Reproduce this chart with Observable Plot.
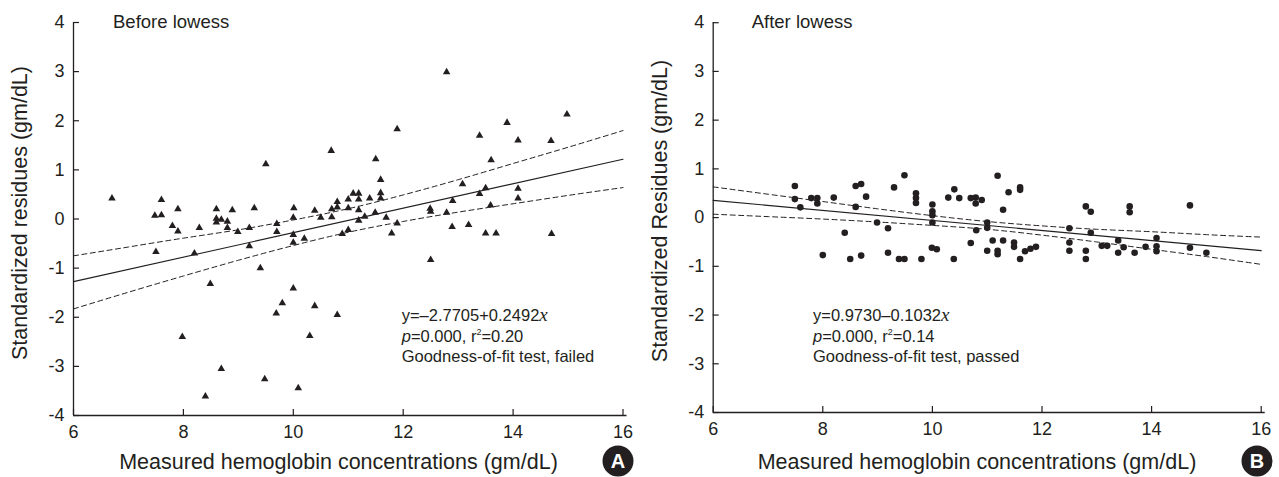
<!DOCTYPE html>
<html><head><meta charset="utf-8">
<script src="https://cdn.jsdelivr.net/npm/d3@7"></script>
<script src="https://cdn.jsdelivr.net/npm/@observablehq/plot@0.6"></script>
<style>
html,body{margin:0;padding:0;background:#fff;}
#wrap{position:relative;width:1279px;height:477px;overflow:hidden;}
#left,#right{position:absolute;top:0;}
#left{left:0;} #right{left:640px;}
#overlay{position:absolute;left:0;top:0;pointer-events:none;}
</style></head><body>
<div id="wrap"><div id="left"></div><div id="right"></div><svg id="overlay" width="1279" height="477"></svg></div>
<script>
const xTicks = [6, 8, 10, 12, 14, 16];
const yTicks = [-4, -3, -2, -1, 0, 1, 2, 3, 4];
const panelTitles = ["Before lowess", "After lowess"];
const xLabel = "Measured hemoglobin concentrations (gm/dL)";
const yLabels = ["Standardized residues (gm/dL)", "Standardized Residues (gm/dL)"];
const panelTags = ["A", "B"];

// Before lowess: [hemoglobin, standardized residue]
const beforePoints = [
[6.70,0.42],[7.48,0.07],[7.60,0.08],[7.60,0.39],[7.90,0.20],[7.80,-0.14],[7.90,-0.25],[8.29,-0.18],
[7.50,-0.67],[8.20,-0.70],[8.60,0.20],[8.60,0.01],[8.60,-0.07],[8.69,-0.01],[8.80,-0.05],[8.80,-0.18],
[8.89,0.18],[8.99,-0.26],[9.20,-0.18],[9.20,-0.55],[9.29,0.22],[9.50,1.12],[9.40,-1.00],[9.70,-0.10],
[9.70,-0.26],[8.49,-1.32],[10.01,0.22],[10.00,0.03],[10.00,-0.32],[10.00,-0.48],[10.20,-0.40],[10.39,0.17],
[10.50,0.03],[10.69,1.39],[10.70,0.20],[10.70,0.04],[10.80,0.35],[10.80,0.24],[10.00,-1.41],[9.80,-1.71],
[9.69,-1.92],[10.39,-1.77],[10.80,-1.95],[7.98,-2.40],[10.30,-2.38],[8.69,-3.05],[9.48,-3.26],[8.40,-3.61],
[10.09,-3.44],[12.79,2.99],[11.89,1.83],[11.50,1.22],[11.59,0.80],[13.39,1.70],[13.89,1.96],[14.09,1.60],
[14.69,1.59],[14.98,2.13],[13.60,1.20],[13.08,0.71],[13.50,0.63],[13.39,0.51],[14.09,0.62],[14.09,0.42],
[13.59,0.28],[12.90,0.37],[12.49,0.21],[12.50,0.15],[12.79,0.13],[13.19,-0.12],[12.89,-0.16],[13.50,-0.29],
[13.69,-0.29],[14.70,-0.30],[11.79,-0.29],[11.89,-0.09],[11.69,0.03],[11.49,0.13],[11.30,0.05],[11.19,-0.03],
[11.19,0.18],[11.00,0.22],[11.00,-0.22],[10.89,-0.30],[11.00,0.40],[11.09,0.52],[11.19,0.52],[11.19,0.40],
[11.39,0.42],[11.59,0.53],[11.59,0.42],[12.50,-0.83]
];

// After lowess
const afterPoints = [
[7.49,0.65],[7.49,0.38],[7.59,0.21],[7.79,0.40],[7.90,0.40],[7.90,0.29],[8.20,0.41],[8.60,0.65],
[8.70,0.69],[8.60,0.22],[8.79,0.43],[8.40,-0.31],[8.00,-0.77],[8.50,-0.85],[8.70,-0.78],[8.99,-0.10],
[9.19,-0.22],[9.30,0.62],[9.49,0.87],[9.19,-0.72],[9.39,-0.85],[9.49,-0.85],[9.70,0.50],[9.70,0.40],
[9.70,0.30],[9.80,-0.85],[10.00,0.27],[10.00,0.13],[10.00,0.05],[10.00,-0.10],[9.99,-0.62],[10.08,-0.65],
[10.29,0.41],[10.40,0.58],[10.49,0.40],[10.39,-0.85],[10.70,0.40],[10.79,0.41],[10.79,0.29],[10.90,0.36],
[10.80,-0.26],[10.70,-0.52],[11.00,-0.10],[11.00,-0.21],[11.10,-0.47],[11.00,-0.68],[11.19,0.86],[11.19,-0.68],
[11.19,-0.75],[11.39,0.52],[11.60,0.62],[11.60,0.57],[11.29,0.16],[11.29,-0.47],[11.49,-0.51],[11.49,-0.60],
[11.60,-0.85],[11.69,-0.69],[11.79,-0.64],[11.89,-0.60],[12.50,-0.22],[12.50,-0.51],[12.50,-0.68],[12.80,0.23],
[12.89,0.12],[12.89,-0.31],[12.80,-0.68],[12.80,-0.85],[13.09,-0.58],[13.19,-0.58],[13.39,-0.47],[13.39,-0.72],
[13.49,-0.61],[13.60,0.23],[13.60,0.11],[13.69,-0.72],[13.89,-0.60],[14.09,-0.42],[14.09,-0.59],[14.09,-0.69],
[14.70,0.25],[14.70,-0.62],[15.00,-0.72]
];

// fitted lines (end values) and dashed confidence band read at whole x values
const fitX = [6, 16];
const beforeFit = [-1.275, 1.217];
const afterFit = [0.354, -0.678];
const bandX = [6, 7, 8, 9, 10, 11, 12, 13, 14, 15, 16];
const beforeUpper = [-0.75, -0.57, -0.39, -0.22, -0.02, 0.21, 0.49, 0.80, 1.13, 1.46, 1.80];
const beforeLower = [-1.83, -1.49, -1.16, -0.84, -0.54, -0.27, -0.05, 0.14, 0.31, 0.48, 0.64];
const afterUpper = [0.63, 0.48, 0.33, 0.18, 0.04, -0.08, -0.17, -0.24, -0.29, -0.35, -0.40];
const afterLower = [0.07, 0.02, -0.03, -0.09, -0.16, -0.24, -0.36, -0.50, -0.65, -0.80, -0.96];

const INK = "#231f20";
const FONT = "'Liberation Sans', Arial, Helvetica, sans-serif";

function panel({pts, fit, upper, lower, symbol, r, width, ml, mr, mt, mb}) {
  const data = pts.map(([x, y]) => ({x, y}));
  const band = bandX.map((x, i) => ({x, u: upper[i], l: lower[i]}));
  const fitData = fitX.map((x, i) => ({x, y: fit[i]}));
  return Plot.plot({
    width, height: 477,
    marginLeft: ml, marginRight: mr, marginTop: mt, marginBottom: mb,
    style: {fontFamily: FONT, color: INK, background: "transparent", overflow: "visible"},
    x: {domain: [6, 16]},
    y: {domain: [-4, 4]},
    marks: [
      Plot.line(band, {x: "x", y: "u", curve: "natural", stroke: INK, strokeWidth: 1, strokeDasharray: "5,3.5"}),
      Plot.line(band, {x: "x", y: "l", curve: "natural", stroke: INK, strokeWidth: 1, strokeDasharray: "5,3.5"}),
      Plot.line(fitData, {x: "x", y: "y", stroke: INK, strokeWidth: 1.1}),
      Plot.dot(data, {x: "x", y: "y", symbol, r, fill: INK, stroke: "none"}),
      Plot.ruleX([6], {stroke: INK, strokeWidth: 1.3}),
      Plot.ruleY([-4], {stroke: INK, strokeWidth: 1.3, insetRight: -4}),
      Plot.axisX({ticks: xTicks, tickSize: 0, tickPadding: 10, fontSize: 18, tickFormat: d => String(d), label: null}),
      Plot.axisX({ticks: xTicks, tickSize: 6, dy: -6, tickFormat: () => "", label: null, strokeWidth: 1.2}),
      Plot.axisY({ticks: yTicks, tickSize: 0, tickPadding: 9, fontSize: 18, tickFormat: d => String(d), label: null}),
      Plot.axisY({ticks: yTicks, tickSize: 6, dx: 6, tickFormat: () => "", label: null, strokeWidth: 1.2})
    ]
  });
}

document.getElementById("left").appendChild(panel({
  pts: beforePoints, fit: beforeFit, upper: beforeUpper, lower: beforeLower,
  symbol: "triangle", r: 2.8,
  width: 640, ml: 73, mr: 17.5, mt: 22, mb: 62
}));
document.getElementById("right").appendChild(panel({
  pts: afterPoints, fit: afterFit, upper: afterUpper, lower: afterLower,
  symbol: "circle", r: 3.3,
  width: 639, ml: 72.7, mr: 18.3, mt: 22.2, mb: 65
}));

// Overlay: axis titles, panel titles, fit statistics, panel tags
const ov = d3.select("#overlay");
const annotations = [
  [[{t: "y=–2.7705+0.2492"}, {t: "x", serif: true}],
   [{t: "p", it: true}, {t: "=0.000, r"}, {t: "2", sup: true}, {t: "=0.20"}],
   [{t: "Goodness-of-fit test, failed"}]],
  [[{t: "y=0.9730–0.1032"}, {t: "x", serif: true}],
   [{t: "p", it: true}, {t: "=0.000, r"}, {t: "2", sup: true}, {t: "=0.14"}],
   [{t: "Goodness-of-fit test, passed"}]]
];
const titlePos = [[113, 28.3], [751.7, 28.3]];
const annPos = [[401.7, 321], [813, 321]];
const tagPos = [[618, 461], [1257, 461]];
const xLabelPos = [[338.5, 469.3], [977, 469.3]];
const yLabelPos = [[26.5, 213], [666.5, 211]];

[0, 1].forEach(p => {
  ov.append("text").attr("x", xLabelPos[p][0]).attr("y", xLabelPos[p][1]).attr("text-anchor", "middle")
    .attr("font-family", FONT).attr("font-size", 21.5).attr("fill", INK).text(xLabel);
  ov.append("text").attr("transform", `translate(${yLabelPos[p][0]},${yLabelPos[p][1]}) rotate(-90)`)
    .attr("text-anchor", "middle")
    .attr("font-family", FONT).attr("font-size", 21.5).attr("fill", INK).text(yLabels[p]);
  ov.append("text").attr("x", titlePos[p][0]).attr("y", titlePos[p][1])
    .attr("font-family", FONT).attr("font-size", 18.5).attr("fill", INK).text(panelTitles[p]);
  annotations[p].forEach((line, li) => {
    const t = ov.append("text").attr("x", annPos[p][0]).attr("y", annPos[p][1] + li * 20.7)
      .attr("font-family", FONT).attr("font-size", 16.5).attr("fill", INK);
    line.forEach((part, pi) => {
      const s = t.append("tspan").text(part.t);
      if (part.serif) s.attr("font-family", "'Liberation Serif', 'Times New Roman', serif").attr("font-style", "italic").attr("font-size", 19);
      if (part.it) s.attr("font-style", "italic");
      if (part.sup) { s.attr("font-size", 9).attr("dy", -7); }
      else if (pi > 0 && line[pi - 1].sup) { s.attr("dy", 7); }
    });
  });
  ov.append("circle").attr("cx", tagPos[p][0]).attr("cy", tagPos[p][1]).attr("r", 15.5).attr("fill", INK);
  ov.append("text").attr("x", tagPos[p][0]).attr("y", tagPos[p][1] + 7.3).attr("text-anchor", "middle")
    .attr("font-family", FONT).attr("font-weight", "bold").attr("font-size", 20).attr("fill", "#fff").text(panelTags[p]);
});
</script>
</body></html>
